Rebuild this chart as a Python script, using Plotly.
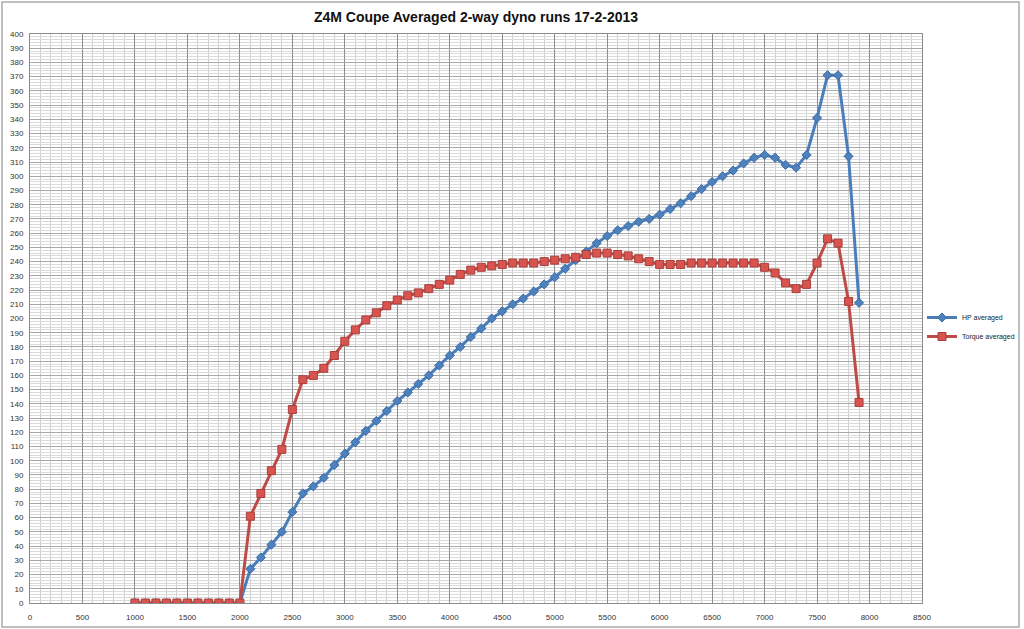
import plotly.graph_objects as go

rpm = list(range(1000, 8000, 100))

hp_averaged = [0]*11 + [
    24, 32, 41, 50, 64, 77, 82, 88, 97, 105,
    113, 121, 128, 135, 142, 148, 154, 160, 167, 174,
    180, 187, 193, 200, 205, 210, 214, 219, 224, 229,
    235, 241, 247, 253, 258, 262, 265, 268, 270, 273,
    277, 281, 286, 291, 296, 300, 304, 309, 313, 315,
    313, 308, 306, 315, 341, 371, 371, 314, 211,
]

torque_averaged = [0]*11 + [
    61, 77, 93, 108, 136, 157, 160, 165, 174, 184,
    192, 199, 204, 209, 213, 216, 218, 221, 224, 227,
    231, 234, 236, 237, 238, 239, 239, 239, 240, 241,
    242, 243, 245, 246, 246, 245, 244, 242, 240, 238,
    238, 238, 239, 239, 239, 239, 239, 239, 239, 236,
    232, 225, 221, 224, 239, 256, 253, 212, 141,
]

title_text = "Z4M Coupe Averaged 2-way dyno runs 17-2-2013"

fig = go.Figure()
fig.add_trace(go.Scatter(
    x=rpm, y=hp_averaged, name="HP averaged", mode="lines+markers",
    line=dict(color="#4A7EBB", width=3),
    marker=dict(symbol="diamond", size=7, color="#4F81BD",
                line=dict(color="#3A6BA5", width=1)),
))
fig.add_trace(go.Scatter(
    x=rpm, y=torque_averaged, name="Torque averaged", mode="lines+markers",
    line=dict(color="#BE4B48", width=3),
    marker=dict(symbol="square", size=8, color="#D9534F",
                line=dict(color="#A5403D", width=1)),
))

fig.update_layout(
    width=1024, height=629,
    margin=dict(l=30, r=102, t=34, b=26, autoexpand=False),
    paper_bgcolor="white", plot_bgcolor="white",
    title=dict(text="<b>" + title_text + "</b>", x=0.5, xref="paper",
               y=1 - 17/629, yanchor="middle", xanchor="center",
               font=dict(family="Liberation Sans, Arial", size=14, color="#111")),
    font=dict(family="Liberation Sans, Arial", size=8, color="#333"),
    showlegend=True,
    legend=dict(xref="container", yref="container",
                x=922/1024, xanchor="left", y=1 - 327/629, yanchor="middle",
                font=dict(size=7, color="#222"), bgcolor="rgba(0,0,0,0)",
                itemwidth=30, tracegroupgap=0),
    shapes=[dict(type="rect", xref="paper", yref="paper",
                 x0=-28/892, x1=1 + 97/892, y0=-24/569, y1=1 + 32/569,
                 line=dict(color="#AAAAAA", width=1.5), layer="below")],
)

fig.update_xaxes(
    range=[0, 8500], dtick=500, tick0=0, showgrid=True, gridcolor="#8C8C8C",
    gridwidth=1, zeroline=False, showline=True, linecolor="#8C8C8C", mirror=True,
    ticks="", tickfont=dict(size=8, color="#333"), ticklabelstandoff=6,
    minor=dict(dtick=100, showgrid=True, gridcolor="#CFCFCF", gridwidth=1),
)
fig.update_yaxes(
    range=[0, 400], dtick=10, tick0=0, showgrid=True, gridcolor="#A8A8A8",
    gridwidth=1, zeroline=False, showline=True, linecolor="#8C8C8C", mirror=True,
    ticks="", tickfont=dict(size=8, color="#333"), ticklabelstandoff=4,
    minor=dict(dtick=2, showgrid=True, gridcolor="#DADADA", gridwidth=1),
)

fig.write_html("out.html")
